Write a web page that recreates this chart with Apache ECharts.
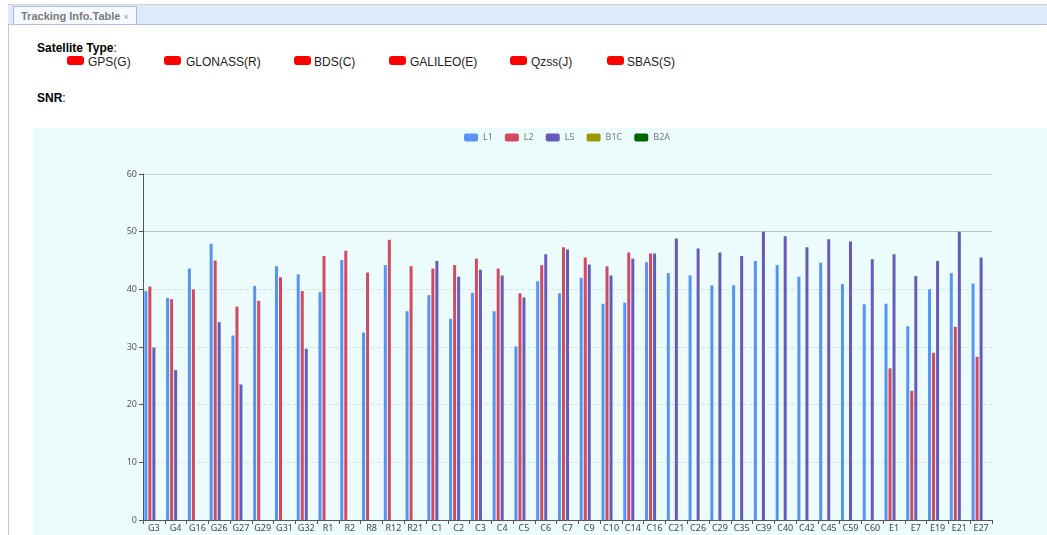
<!DOCTYPE html>
<html>
<head>
<meta charset="utf-8">
<title>Tracking Info</title>
<script src="https://cdn.jsdelivr.net/npm/echarts@6/dist/echarts.min.js"></script>
<style>
  html, body {
    margin: 0;
    padding: 0;
    width: 1047px;
    height: 535px;
    overflow: hidden;
    background: #fff;
    font-family: "Liberation Sans", Arial, sans-serif;
  }
  .frame {
    position: absolute;
    left: 8px;
    top: 4px;
    width: 1039px;
    height: 531px;
    border-left: 1px solid #c9c9c9;
  }
  .tabbar {
    position: absolute;
    left: 8px;
    top: 4px;
    width: 1039px;
    height: 19px;
    background: #dee9fc;
    border-top: 1px solid #d2d2d2;
    border-bottom: 1px solid #aec2e4;
  }
  .tab {
    position: absolute;
    left: 13px;
    top: 6px;
    width: 124px;
    height: 18px;
    background: #f6f9fd;
    border: 1px solid #a8bddc;
    border-bottom: none;
    font: bold 11px "Liberation Sans", Arial, sans-serif;
    color: #7a7a7a;
    line-height: 18px;
    padding-left: 7px;
    box-sizing: border-box;
    white-space: nowrap;
    overflow: hidden;
  }
  .tab span {
    font-weight: normal;
    font-size: 9px;
    color: #999;
  }
  .title {
    position: absolute;
    left: 37px;
    font-size: 12px;
    line-height: 14px;
    color: #000;
  }
  .title b { font-weight: bold; }
  .sat {
    position: absolute;
    top: 55px;
    font-size: 12px;
    line-height: 14px;
    color: #222;
    white-space: nowrap;
  }
  .sat i {
    position: absolute;
    top: 1px;
    width: 17px;
    height: 9px;
    border-radius: 3px;
    background: #ff0000;
  }
  #snrChart {
    position: absolute;
    left: 33px;
    top: 128px;
    width: 1014px;
    height: 407px;
    background: #ecfcfc;
  }
</style>
</head>
<body>
<div class="frame"></div>
<div class="tabbar"></div>
<div class="tab">Tracking Info.Table <span>×</span></div>

<div class="title" style="top:41px"><b>Satellite Type</b>:</div>
<div class="sat" style="left:88px"><i style="left:-21px"></i>GPS(G)</div>
<div class="sat" style="left:186px"><i style="left:-22px"></i>GLONASS(R)</div>
<div class="sat" style="left:314px"><i style="left:-20px"></i>BDS(C)</div>
<div class="sat" style="left:410px"><i style="left:-21px"></i>GALILEO(E)</div>
<div class="sat" style="left:531px"><i style="left:-21px"></i>Qzss(J)</div>
<div class="sat" style="left:627px"><i style="left:-20px"></i>SBAS(S)</div>

<div class="title" style="top:91px"><b>SNR</b>:</div>

<div id="snrChart"></div>

<script>
// satellites on the x axis
var satellites = ['G3', 'G4', 'G16', 'G26', 'G27', 'G29', 'G31', 'G32',
  'R1', 'R2', 'R8', 'R12', 'R21',
  'C1', 'C2', 'C3', 'C4', 'C5', 'C6', 'C7', 'C9', 'C10', 'C14', 'C16',
  'C21', 'C26', 'C29', 'C35', 'C39', 'C40', 'C42', 'C45', 'C59', 'C60',
  'E1', 'E7', 'E19', 'E21', 'E27']

// SNR per frequency band (null = no signal)
var snrL1 = [39.7, 38.5, 43.6, 47.9, 32.0, 40.6, 44.0, 42.6,
  39.5, 45.1, 32.5, 44.2, 36.2,
  39.0, 34.9, 39.4, 36.2, 30.1, 41.4, 39.3, 42.0, 37.5, 37.7, 44.7,
  42.8, 42.4, 40.7, 40.7, 44.9, 44.2, 42.2, 44.6, 40.9, 37.4,
  37.5, 33.6, 40.0, 42.8, 41.0]
var snrL2 = [40.5, 38.3, 40.0, 45.0, 37.0, 38.0, 42.1, 39.7,
  45.8, 46.7, 42.9, 48.6, 44.0,
  43.6, 44.2, 45.3, 43.6, 39.3, 44.2, 47.3, 45.5, 44.0, 46.4, 46.2,
  null, null, null, null, null, null, null, null, null, null,
  26.3, 22.4, 29.0, 33.5, 28.3]
var snrL5 = [29.9, 26.0, null, 34.3, 23.5, null, null, 29.7,
  null, null, null, null, null,
  44.9, 42.2, 43.4, 42.4, 38.6, 46.1, 46.9, 44.3, 42.4, 45.3, 46.2,
  48.8, 47.1, 46.4, 45.8, 50.0, 49.2, 47.3, 48.7, 48.3, 45.2,
  46.1, 42.3, 44.9, 50.0, 45.5]
var snrB1C = []
var snrB2A = []

var bandNames = ['L1', 'L2', 'L5', 'B1C', 'B2A']
var bandColors = ['#5793f3', '#d14a61', '#675bba', '#9a9a00', '#006400']
var yTicks = { min: 0, max: 60, step: 10 }

var chart = echarts.init(document.getElementById('snrChart'))

function band(i, data) {
  return {
    name: bandNames[i],
    type: 'bar',
    barWidth: 3,
    barGap: '34%',
    itemStyle: { color: bandColors[i] },
    data: data
  }
}

var option = {
  animation: false,
  textStyle: { fontFamily: 'Noto Sans, sans-serif' },
  color: bandColors,
  legend: {
    data: bandNames,
    left: 426,
    top: 0,
    itemWidth: 14,
    itemHeight: 8,
    itemGap: 12,
    textStyle: { fontSize: 9, color: '#777' }
  },
  grid: {
    left: 110,
    right: 55,
    top: 46,
    bottom: 15
  },
  xAxis: {
    type: 'category',
    data: satellites,
    axisLine: { lineStyle: { color: '#555' } },
    axisTick: { show: true, length: 4 },
    axisLabel: { interval: 0, fontSize: 9, color: '#444', margin: 4 }
  },
  yAxis: [
    {
      type: 'value',
      min: yTicks.min,
      max: yTicks.max,
      interval: yTicks.step,
      axisLine: { show: true, lineStyle: { color: '#555' } },
      axisTick: { show: true, length: 4 },
      axisLabel: { fontSize: 9, color: '#555', margin: 6 },
      splitLine: { lineStyle: { color: '#d3e3e3', type: 'dashed' } }
    },
    {
      // only used to draw the solid upper grid lines
      type: 'value',
      position: 'left',
      min: yTicks.min,
      max: yTicks.max,
      interval: yTicks.step,
      axisLine: { show: false },
      axisTick: { show: false },
      axisLabel: { show: false },
      splitLine: {
        lineStyle: {
          color: ['transparent', 'transparent', 'transparent', 'transparent',
            'transparent', '#b9c4c4', '#c8d2d2'],
          type: 'solid'
        }
      }
    }
  ],
  series: [
    band(0, snrL1),
    band(1, snrL2),
    band(2, snrL5),
    band(3, snrB1C),
    band(4, snrB2A)
  ]
}

chart.setOption(option)
window.addEventListener('resize', function () { chart.resize() })
</script>
</body>
</html>
